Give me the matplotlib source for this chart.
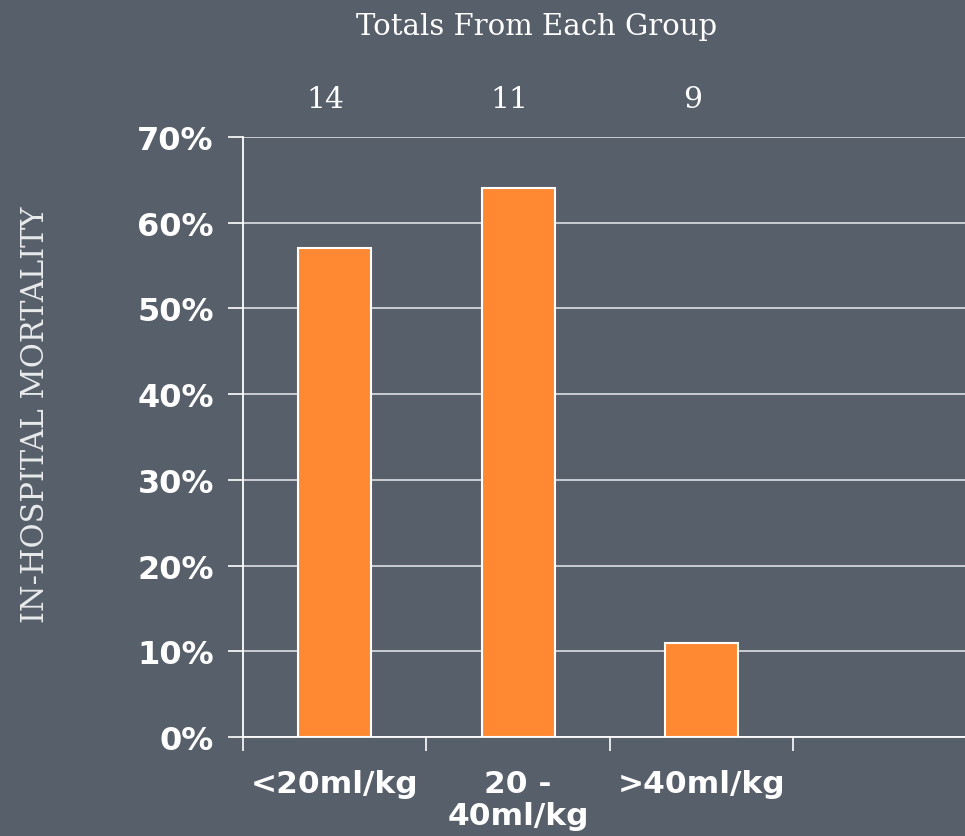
import matplotlib
matplotlib.use("Agg")
import matplotlib.pyplot as plt
from matplotlib.ticker import FuncFormatter

# Mortality by fluid volume group
groups = ["<20ml/kg", "20 -\n40ml/kg", ">40ml/kg"]
mortality = [57, 64, 11]          # percent
group_totals = [14, 11, 9]

BG = "#575F6B"
BAR = "#FF8833"
GRID = "#DDDFE2"

W, H = 965, 837
fig = plt.figure(figsize=(W / 100, H / 100), dpi=100, facecolor=BG)

# axes spans four category slots; the last slot is empty and runs off the right edge
left, right = 243, 977
bottom, top = 738, 138
ax = fig.add_axes([left / W, (H - bottom) / H, (right - left) / W, (bottom - top) / H])
ax.set_facecolor(BG)

xs = list(range(len(groups)))
ax.bar(xs, mortality, width=0.4, color=BAR, edgecolor="white", linewidth=1.5, zorder=3)

ax.set_xlim(-0.5, 3.5)
ax.set_ylim(0, 70)
ax.set_yticks(range(0, 71, 10))
ax.yaxis.set_major_formatter(FuncFormatter(lambda v, p: f"{v:.0f}%"))
ax.grid(axis="y", color=GRID, linewidth=1.2, zorder=1)
ax.set_axisbelow(True)

# category boundaries carry the tick marks; names sit at slot centres
ax.set_xticks([-0.5, 0.5, 1.5, 2.5, 3.5])
ax.set_xticklabels([])
ax.set_xticks(xs, minor=True)
ax.set_xticklabels(groups, minor=True)
ax.tick_params(axis="x", which="minor", length=0, pad=23)
ax.tick_params(axis="x", which="major", length=10, width=1.2, color="white", direction="out")
ax.tick_params(axis="y", length=11, width=1.2, color="white", direction="out", pad=10)

for lab in ax.get_yticklabels():
    lab.set_fontfamily("DejaVu Sans")
    lab.set_fontweight("bold")
    lab.set_fontsize(23)
    lab.set_color("white")
for lab in ax.get_xticklabels(minor=True):
    lab.set_fontfamily("DejaVu Sans")
    lab.set_fontweight("bold")
    lab.set_fontsize(22.5)
    lab.set_color("white")
    lab.set_linespacing(1.12)
    lab.set_verticalalignment("top")

for side in ("top", "right"):
    ax.spines[side].set_visible(False)
for side in ("left", "bottom"):
    ax.spines[side].set_color("white")
    ax.spines[side].set_linewidth(1.3)

# group sizes above the plot
for x, n in zip(xs, group_totals):
    ax.text(x - 0.05, 1.0 + 37.5 / 600, str(n), transform=ax.get_xaxis_transform(),
            ha="center", va="center", fontsize=21.5, family="DejaVu Serif",
            color="white")

fig.text(537 / W, 1 - 27 / H, "Totals From Each Group", ha="center", va="center",
         fontsize=21, family="DejaVu Serif", color="white")
fig.text(36 / W, 1 - 415 / H, "IN-HOSPITAL MORTALITY", ha="center", va="center",
         rotation=90, fontsize=22, family="DejaVu Serif", color="#E8EAEC")

fig.savefig("out.png", dpi=100, facecolor=BG)
